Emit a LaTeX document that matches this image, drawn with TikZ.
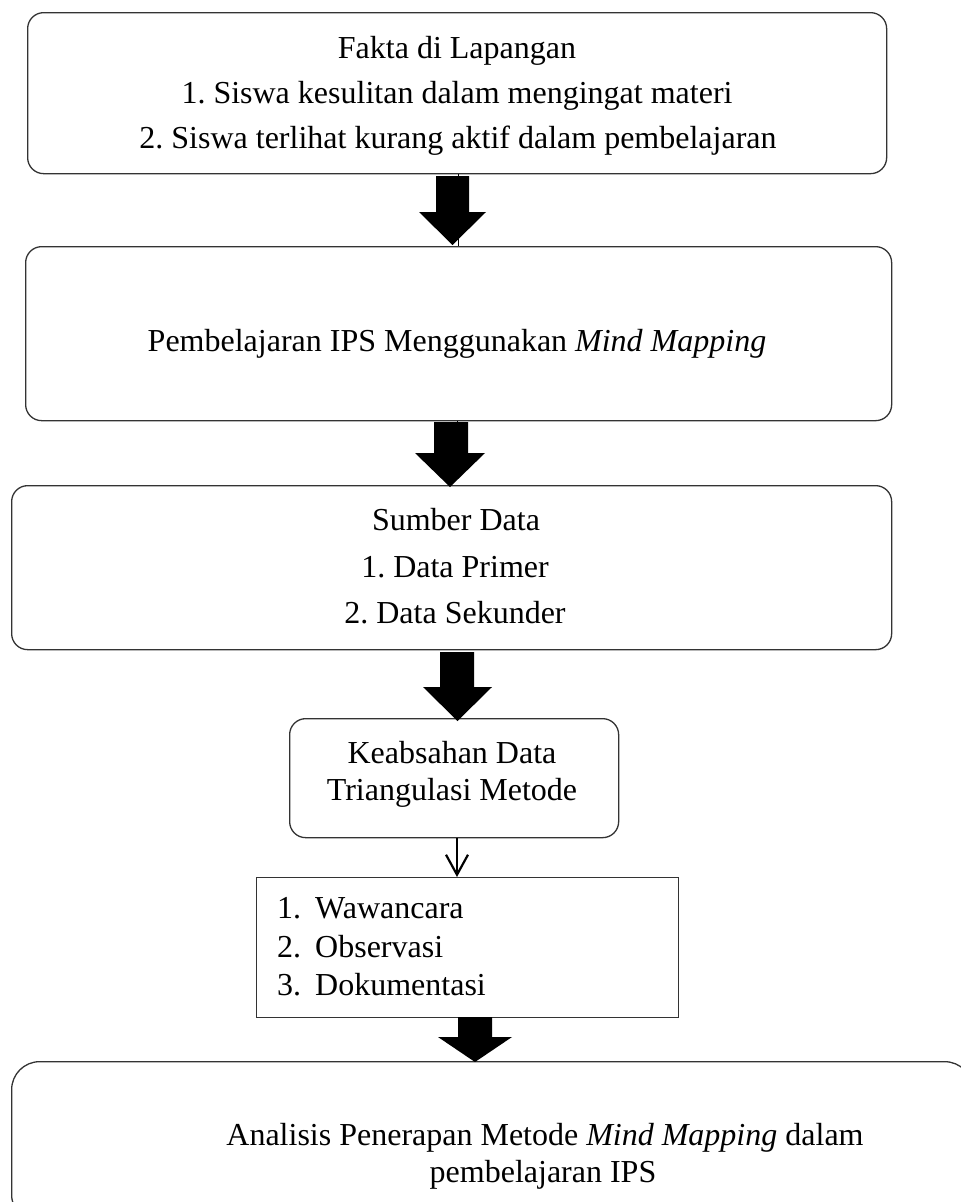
\documentclass[tikz,border=0pt]{standalone}
\usepackage{fontspec}
\setmainfont{Liberation Serif}
\usetikzlibrary{arrows.meta}
\frenchspacing
\newcommand\blockarr[7]{% cx-shaft, shaft half, cx-head, head half, top, base, tip
  \fill[black] (#1-#2,#5) -- (#1+#2,#5) -- (#1+#2,#6) -- (#3+#4,#6) -- (#3,#7)
    -- (#3-#4,#6) -- (#1-#2,#6) -- cycle;}
\begin{document}
\begin{tikzpicture}[x=1pt,y=-1pt,
  box/.style={draw=black!80, line width=1.3pt, rounded corners=16pt, inner sep=0pt,
    anchor=north west, fill=none},
  plainbox/.style={box, rounded corners=0pt},
  txt/.style={inner sep=0pt, anchor=base, font=\fontsize{32}{37}\selectfont},
  txtl/.style={txt, anchor=base west},
  thin/.style={draw=black, line width=1pt}]
\useasboundingbox (0,0) rectangle (961,1202);
\clip (0,0) rectangle (961,1202);

% boxes
\node[box, minimum width=859pt, minimum height=161pt] (b1) at (27,12) {};
\node[box, minimum width=866pt, minimum height=174pt] (b2) at (25,246) {};
\node[box, minimum width=880pt, minimum height=164pt] (b3) at (11,485) {};
\node[box, minimum width=329pt, minimum height=119pt] (b4) at (289,718) {};
\node[plainbox, minimum width=422pt, minimum height=140pt] (b5) at (256,877) {};
\node[box, rounded corners=28pt, minimum width=961pt, minimum height=161pt] (b6) at (11,1061) {};

% texts
\node[txt] (t1a) at (457,58) {Fakta di Lapangan};
\node[txt] (t1b) at (457,103) {1. Siswa kesulitan dalam mengingat materi};
\node[txt] (t1c) at (458,148) {2. Siswa terlihat kurang aktif dalam pembelajaran};

\node[txt] (t2) at (457,351) {Pembelajaran IPS Menggunakan \textit{Mind Mapping}};

\node[txt] (t3a) at (456,530) {Sumber Data};
\node[txt] (t3b) at (455,577) {1. Data Primer};
\node[txt] (t3c) at (455,623) {2. Data Sekunder};

\node[txt] (t4a) at (452,763) {Keabsahan Data};
\node[txt] (t4b) at (452,800) {Triangulasi Metode};

\node[txtl] (n5a) at (277,918) {1.};
\node[txtl] (t5a) at (315,918) {Wawancara};
\node[txtl] (n5b) at (277,957) {2.};
\node[txtl] (t5b) at (315,957) {Observasi};
\node[txtl] (n5c) at (277,995) {3.};
\node[txtl] (t5c) at (315,995) {Dokumentasi};

\node[txt] (t6a) at (545,1145) {Analisis Penerapan Metode \textit{Mind Mapping} dalam};
\node[txt] (t6b) at (543,1182) {pembelajaran IPS};

% thin connector lines behind block arrows
\coordinate (c1) at (458,0);
\coordinate (c2) at (457,0);
\draw[thin] (b1.south -| c1) -- (b2.north -| c1);
\draw[thin] (b2.south -| c2) -- ++(0,3);

% block arrows
\blockarr{452.5}{16.5}{452.5}{33.5}{176}{212}{245}
\blockarr{451}{17}{450}{35}{422}{453}{487}
\blockarr{457}{17}{457.5}{34.5}{652}{687}{721}
\blockarr{475}{17}{475}{37}{1017}{1037}{1062}

% thin arrow
\coordinate (c3) at (457,0);
\draw[line width=2pt, -{Straight Barb[length=20pt, width=22pt, line width=2.2pt]}]
  (b4.south -| c3) -- (b5.north -| c3);
\end{tikzpicture}
\end{document}
